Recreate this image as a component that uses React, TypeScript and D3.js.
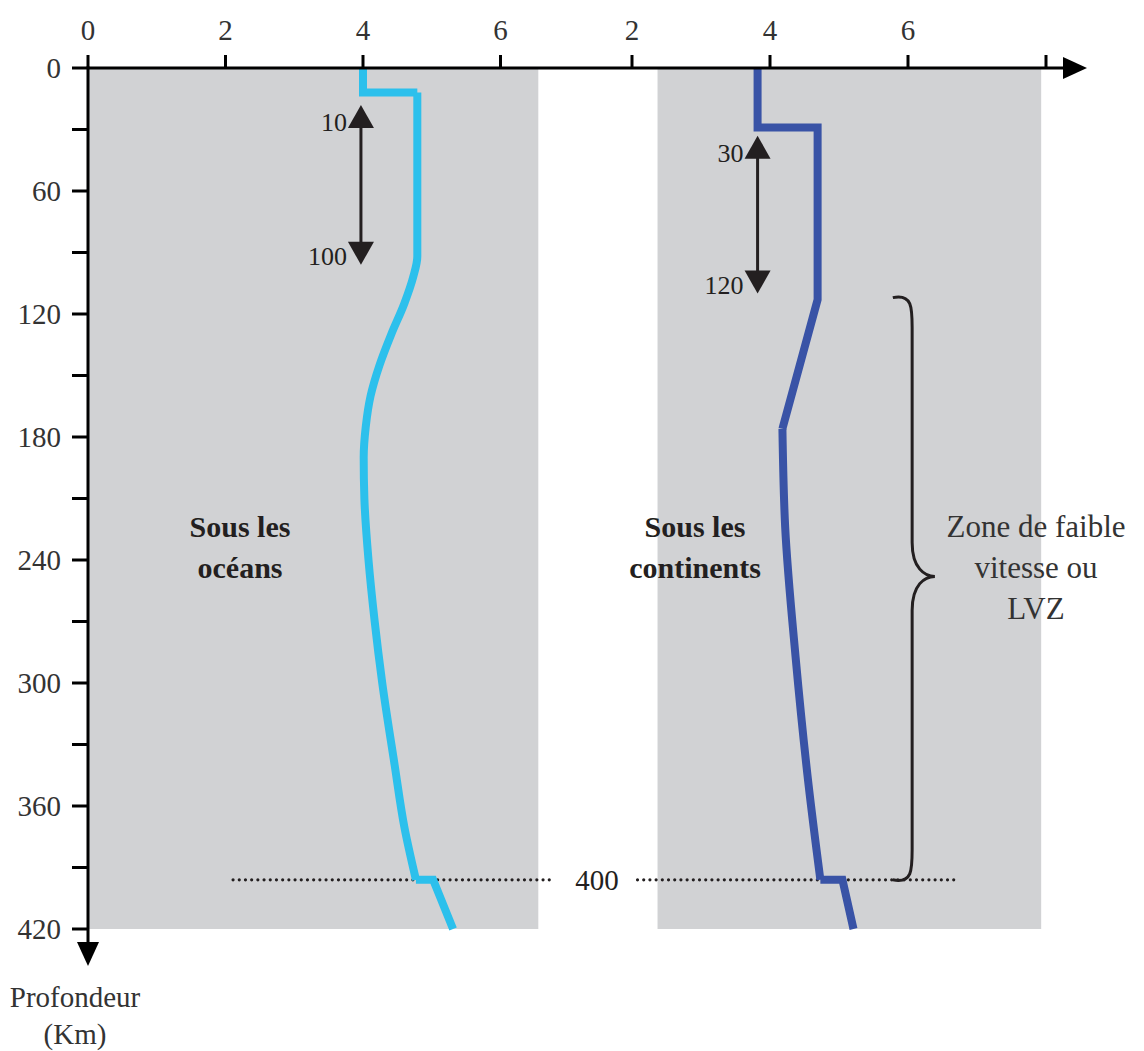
import * as d3 from "d3";

// depth (km) / velocity (km/s) profiles
const oceanUpper: [number, number][] = [[0, 4.0], [12, 4.0], [12, 4.79]];
const oceanMiddle: [number, number][] = [
  [12, 4.79], [92, 4.79], [102, 4.73], [115, 4.6], [130, 4.41], [145, 4.24], [160, 4.11],
  [175, 4.04], [190, 4.01], [210, 4.02], [240, 4.08], [270, 4.17], [300, 4.28],
  [340, 4.46], [370, 4.6], [396, 4.77],
];
const oceanLower: [number, number][] = [[396, 4.77], [396, 5.02], [420, 5.31]];

const contUpper: [number, number][] = [[0, 3.82], [29, 3.82], [29, 4.69], [113, 4.69], [176, 4.18]];
const contMiddle: [number, number][] = [[176, 4.18], [224, 4.22], [287, 4.37], [350, 4.56], [396, 4.73]];
const contLower: [number, number][] = [[396, 4.73], [396, 5.05], [420, 5.21]];

const depthTicks = d3.range(0, 421, 30);
const oceanTicks = [0, 2, 4, 6];
const contTicks = [2, 4, 6, 8];
const contTickLabels = ["2", "4", "6", ""];

const oceanPanel = [0, 6.55];
const contPanel = [2.37, 7.93];
const lvzDepth = 396;
const oceanArrow = { v: 3.97, from: 18, to: 96, top: "10", bottom: "100" };
const contArrow = { v: 3.82, from: 33, to: 110, top: "30", bottom: "120" };
const brace = { top: 112, mid: 248, bottom: 396, hook: 5.78, bar: 6.06, tip: 6.39 };

const FONT = "Liberation Serif, Tinos, Times New Roman, DejaVu Serif, serif";
const INK = "#231f20";

export default function App() {
  const W = 1144;
  const H = 1051;
  const x0 = 88;
  const y0 = 68;

  const y = d3.scaleLinear().domain([0, 420]).range([y0, 929]);
  const xO = d3.scaleLinear().domain([0, 6]).range([x0, 500.5]);
  const xC = d3.scaleLinear().domain([0, 8]).range([494, 1046]);

  const lineO = d3.line<[number, number]>().x(d => xO(d[1])).y(d => y(d[0]));
  const lineC = d3.line<[number, number]>().x(d => xC(d[1])).y(d => y(d[0]));
  const smoothO = d3.line<[number, number]>().x(d => xO(d[1])).y(d => y(d[0])).curve(d3.curveMonotoneY);
  const smoothC = d3.line<[number, number]>().x(d => xC(d[1])).y(d => y(d[0])).curve(d3.curveMonotoneY);

  const oceanColor = "#2cc0ec";
  const contColor = "#3953a6";
  const txt = { fontFamily: FONT };

  const arrow = (ax: number, a: typeof oceanArrow) => {
    const yt = y(a.from);
    const yb = y(a.to);
    const hw = 13;
    const hl = 23;
    return (
      <g>
        <line x1={ax} x2={ax} y1={yt + hl - 2} y2={yb - hl + 2} stroke={INK} strokeWidth={3} />
        <polygon points={`${ax},${yt} ${ax - hw},${yt + hl} ${ax + hw},${yt + hl}`} fill={INK} />
        <polygon points={`${ax},${yb} ${ax - hw},${yb - hl} ${ax + hw},${yb - hl}`} fill={INK} />
        <text x={ax - 14} y={yt + 26} textAnchor="end" fontSize={26} fill={INK} style={txt}>
          {a.top}
        </text>
        <text x={ax - 14} y={yb} textAnchor="end" fontSize={26} fill={INK} style={txt}>
          {a.bottom}
        </text>
      </g>
    );
  };

  const bx0 = xC(brace.hook);
  const bx1 = xC(brace.bar);
  const bx2 = xC(brace.tip);
  const byT = y(brace.top);
  const byM = y(brace.mid);
  const byB = y(brace.bottom);
  const bracePath =
    `M${bx0},${byT} C${bx1},${byT - 4} ${bx1},${byT + 10} ${bx1},${byT + 30} ` +
    `L${bx1},${byM - 34} C${bx1},${byM - 8} ${bx2 - 10},${byM} ${bx2},${byM} ` +
    `C${bx2 - 10},${byM} ${bx1},${byM + 8} ${bx1},${byM + 34} ` +
    `L${bx1},${byB - 30} C${bx1},${byB - 10} ${bx1},${byB + 4} ${bx0},${byB}`;

  const yEnd = 966;
  const xEnd = 1087;

  return (
    <svg width={W} height={H} style={{ position: "absolute", left: 0, top: 0, background: "#fff" }}>
      {/* grey panels */}
      <rect x={xO(oceanPanel[0])} y={y(0)} width={xO(oceanPanel[1]) - xO(oceanPanel[0])} height={y(420) - y(0)} fill="#d1d2d4" />
      <rect x={xC(contPanel[0])} y={y(0)} width={xC(contPanel[1]) - xC(contPanel[0])} height={y(420) - y(0)} fill="#d1d2d4" />

      {/* 400 km dotted line */}
      <line x1={xO(2.11)} x2={xO(6.76)} y1={y(lvzDepth)} y2={y(lvzDepth)} stroke={INK} strokeWidth={3.2} strokeDasharray="0 6.2" strokeLinecap="round" />
      <line x1={xC(2.08)} x2={xC(6.69)} y1={y(lvzDepth)} y2={y(lvzDepth)} stroke={INK} strokeWidth={3.2} strokeDasharray="0 6.2" strokeLinecap="round" />
      <text x={597} y={y(lvzDepth) + 10} textAnchor="middle" fontSize={29} fill={INK} style={txt}>400</text>

      {/* profiles */}
      <g fill="none" strokeWidth={8} strokeLinejoin="miter">
        <path d={lineO(oceanUpper) ?? ""} stroke={oceanColor} />
        <path d={smoothO(oceanMiddle) ?? ""} stroke={oceanColor} />
        <path d={lineO(oceanLower) ?? ""} stroke={oceanColor} />
        <path d={lineC(contUpper) ?? ""} stroke={contColor} />
        <path d={smoothC(contMiddle) ?? ""} stroke={contColor} />
        <path d={lineC(contLower) ?? ""} stroke={contColor} />
      </g>

      {arrow(xO(oceanArrow.v), oceanArrow)}
      {arrow(xC(contArrow.v), contArrow)}

      {/* brace */}
      <path d={bracePath} fill="none" stroke={INK} strokeWidth={3} />

      {/* labels */}
      <g style={txt} fontSize={30} fontWeight="bold" fill={INK} textAnchor="middle">
        <text x={240} y={537}>Sous les</text>
        <text x={240} y={578}>océans</text>
        <text x={695} y={537}>Sous les</text>
        <text x={695} y={578}>continents</text>
      </g>
      <g style={txt} fontSize={31} fill="#333" textAnchor="middle">
        <text x={1036} y={537}>Zone de faible</text>
        <text x={1036} y={578}>vitesse ou</text>
        <text x={1036} y={619}>LVZ</text>
      </g>

      {/* top axis */}
      <line x1={x0} x2={xEnd - 20} y1={y0} y2={y0} stroke="#000" strokeWidth={3} />
      <polygon points={`${xEnd},${y0} ${xEnd - 24},${y0 - 11} ${xEnd - 24},${y0 + 11}`} fill="#000" />
      {oceanTicks.map(t => (
        <g key={"o" + t}>
          <line x1={xO(t)} x2={xO(t)} y1={y0} y2={y0 - 13} stroke="#000" strokeWidth={3} />
          <text x={xO(t)} y={y0 - 28} textAnchor="middle" fontSize={29} fill="#333" style={txt}>{t}</text>
        </g>
      ))}
      {contTicks.map((t, i) => (
        <g key={"c" + t}>
          <line x1={xC(t)} x2={xC(t)} y1={y0} y2={y0 - 13} stroke="#000" strokeWidth={3} />
          <text x={xC(t)} y={y0 - 28} textAnchor="middle" fontSize={29} fill="#333" style={txt}>{contTickLabels[i]}</text>
        </g>
      ))}

      {/* left axis */}
      <line x1={x0} x2={x0} y1={y0 - 1.5} y2={yEnd - 20} stroke="#000" strokeWidth={3} />
      <polygon points={`${x0},${yEnd} ${x0 - 11},${yEnd - 24} ${x0 + 11},${yEnd - 24}`} fill="#000" />
      {depthTicks.map(t => (
        <g key={"d" + t}>
          <line x1={x0 - 16} x2={x0} y1={y(t)} y2={y(t)} stroke="#000" strokeWidth={3} />
          {t % 60 === 0 && (
            <text x={x0 - 27} y={y(t) + 10} textAnchor="end" fontSize={29} fill="#333" style={txt}>{t}</text>
          )}
        </g>
      ))}
      <g style={txt} fontSize={29} fill="#333" textAnchor="middle">
        <text x={75} y={1007}>Profondeur</text>
        <text x={75} y={1044}>(Km)</text>
      </g>
    </svg>
  );
}
